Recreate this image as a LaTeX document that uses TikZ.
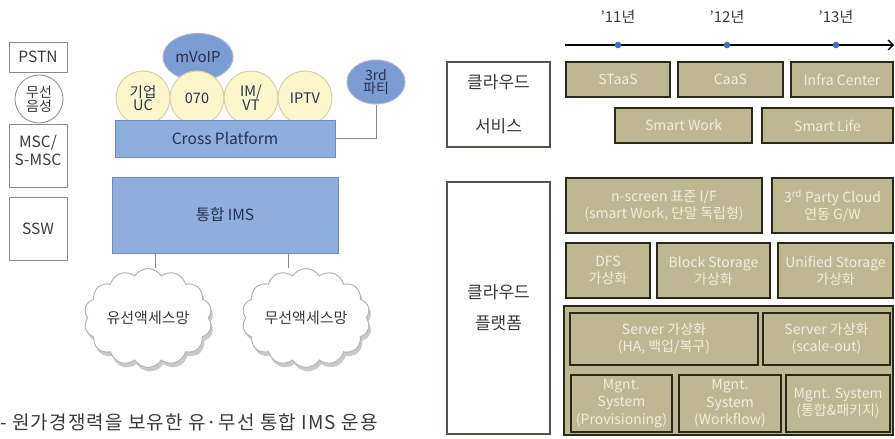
\documentclass[tikz,border=0pt]{standalone}
\usepackage{fontspec}
\setmainfont{Noto Sans CJK KR}
\usetikzlibrary{shapes.symbols,shapes.geometric,shadows,arrows.meta,calc}

\definecolor{boxgrey}{HTML}{8A8A8A}
\definecolor{txtgrey}{HTML}{3A3A3A}
\definecolor{bluefill}{HTML}{8EAEE0}
\definecolor{blueborder}{HTML}{6E8CBE}
\definecolor{ellfill}{HTML}{7C9CD4}
\definecolor{ellborder}{HTML}{A9B6CC}
\definecolor{yelfill}{HTML}{FBF7CB}
\definecolor{yelborder}{HTML}{D8CFA6}
\definecolor{navytxt}{HTML}{23324F}
\definecolor{tanfill}{HTML}{BDB892}
\definecolor{tanborder}{HTML}{2C281C}
\definecolor{tantext}{HTML}{EFECDB}
\definecolor{dotblue}{HTML}{3A6FC8}
\definecolor{cloudline}{HTML}{B4B4B4}

\begin{document}
\begin{tikzpicture}[x=1pt,y=-1pt,
  greybox/.style={draw=boxgrey, line width=0.8pt, fill=white, minimum width=58pt,
    inner sep=0pt, text=txtgrey, align=center, font=\fontsize{15.5}{17}\selectfont},
  yel/.style={circle, draw=yelborder, fill=yelfill, line width=1pt, minimum size=54pt,
    inner sep=0pt, text=navytxt, align=center, font=\fontsize{14.5}{13}\selectfont},
  bluebox/.style={draw=blueborder, fill=bluefill, line width=1pt, inner sep=0pt,
    text=navytxt, font=\fontsize{15.5}{17}\selectfont},
  blueell/.style={ellipse, draw=ellborder, fill=ellfill, line width=1pt, inner sep=0pt,
    text=navytxt, align=center, font=\fontsize{15}{13}\selectfont},
  netcloud/.style={cloud, cloud puffs=14, cloud puff arc=115, aspect=1.35,
    draw=cloudline, fill=white, line width=1pt, inner sep=0pt,
    minimum width=128pt, minimum height=96pt, text=txtgrey,
    font=\fontsize{15}{17}\selectfont,
    drop shadow={shadow xshift=2pt, shadow yshift=-4pt, fill=black!30, opacity=0.7}},
  tanbox/.style={draw=tanborder, fill=tanfill, line width=1.5pt, inner sep=0pt,
    text=tantext, align=center, font=\fontsize{14}{17}\selectfont},
  labelbox/.style={draw=tanborder!80, line width=1.2pt, fill=white, inner sep=0pt,
    text=txtgrey, align=center},
  yearlbl/.style={text=txtgrey, font=\fontsize{15}{17}\selectfont},
  link/.style={draw=boxgrey, line width=0.8pt}
]
\useasboundingbox (0,0) rectangle (895,439);

% ---------------- legacy networks column ----------------
\node[greybox, minimum height=30pt] (pstn) at (38,57) {PSTN};
\node[greybox, minimum height=63pt,
      label={[text=txtgrey, align=center, inner sep=0pt, yshift=6pt,
              font=\fontsize{15.5}{18}\selectfont]center:MSC/\\S-MSC}] (msc) at (38,156) {};
\node[circle, draw=boxgrey, line width=0.8pt, fill=white, minimum size=48pt, inner sep=0pt,
      text=txtgrey, align=center, font=\fontsize{14}{13.5}\selectfont] (voice) at (39,99) {무선\\음성};
\node[greybox, minimum height=63pt] (ssw) at (38,228.5) {SSW};

% ---------------- service bubbles ----------------
\node[blueell, minimum width=70pt, minimum height=47pt] (mvoip) at (198,57) {mVoIP};
\node[yel] (ucbub) at (143,98) {기업\\UC};
\node[yel] (bub070) at (197,98) {070};
\node[yel] (imvt) at (251,98) {IM/\\VT};
\node[yel] (iptv) at (305,98) {IPTV};
\node[bluebox, minimum width=220pt, minimum height=37pt] (cross) at (225,138.5) {Cross Platform};

\node[blueell, minimum width=58pt, minimum height=44pt, font=\fontsize{14}{13}\selectfont] (third) at (376,82) {3rd\\파티};
\draw[link] (cross.east) -| (third.south);

% ---------------- integrated IMS and access networks ----------------
\node[bluebox, minimum width=226pt, minimum height=76pt] (ims) at (225,215) {통합 IMS};

\node[netcloud] (wired) at (148,318) {유선액세스망};
\node[netcloud] (wireless) at (306,318) {무선액세스망};

\draw[link] ([xshift=-70pt]ims.south) -- ([xshift=-70pt]ims.south |- wired.north);
\draw[link] ([xshift=63pt]ims.south) -- ([xshift=63pt]ims.south |- wireless.north);

\node[anchor=west, inner sep=0pt, text=txtgrey,
      font=\fontsize{19}{21}\selectfont\addfontfeature{LetterSpace=6}] (caption) at (0,422)
  {- 원가경쟁력을 보유한 유·무선 통합 IMS 운용};

% ---------------- timeline ----------------
\coordinate (tlstart) at (565,45);
\coordinate (tlend) at (894,45);
\draw[line width=1.3pt, -{Straight Barb[length=5pt, width=10pt]}] (tlstart) -- (tlend);
\foreach \px/\yr [count=\i] in {618/11, 727/12, 836/13} {
  \fill[dotblue] (\px,45) circle (3.3pt);
  \node[yearlbl] (yr\i) at (\px,17) {'{\yr}년};
}

% ---------------- cloud services ----------------
\node[labelbox, minimum width=103pt, minimum height=85pt, font=\fontsize{17}{44}\selectfont] (svc) at (498.5,104.5) {클라우드\\서비스};
\node[tanbox, minimum width=104pt, minimum height=35pt] (staas) at (618,79.5) {STaaS};
\node[tanbox, minimum width=105pt, minimum height=35pt] (caas) at (730.5,79.5) {CaaS};
\node[tanbox, minimum width=102pt, minimum height=35pt] (infra) at (842,79.5) {Infra Center};
\node[tanbox, minimum width=137pt, minimum height=35pt] (swork) at (683.5,125.5) {Smart Work};
\node[tanbox, minimum width=131pt, minimum height=35pt] (slife) at (827.5,125.5) {Smart Life};

% ---------------- cloud platform ----------------
\node[labelbox, minimum width=103pt, minimum height=252pt, font=\fontsize{17}{31}\selectfont] (plat) at (498.5,308) {클라우드\\플랫폼};
\node[tanbox, minimum width=196pt, minimum height=55pt] (nscreen) at (664,205.5) {n-screen 표준 I/F\\(smart Work, 단말 독립형)};
\node[tanbox, minimum width=121pt, minimum height=55pt] (party) at (832.5,205.5) {3\textsuperscript{rd} Party Cloud\\연동 G/W};
\node[tanbox, minimum width=84pt, minimum height=55pt] (dfs) at (608,270.5) {DFS\\가상화};
\node[tanbox, minimum width=113pt, minimum height=55pt] (block) at (713.5,270.5) {Block Storage\\가상화};
\node[tanbox, minimum width=115pt, minimum height=55pt] (unified) at (835.5,270.5) {Unified Storage\\가상화};

\node[tanbox, line width=1.2pt, minimum width=329pt, minimum height=129pt] (infra2) at (728.5,370.5) {};
\node[tanbox, minimum width=188pt, minimum height=52pt] (srv1) at (664,339) {Server 가상화\\(HA, 백업/복구)};
\node[tanbox, minimum width=127pt, minimum height=52pt] (srv2) at (826.5,339) {Server 가상화\\(scale-out)};
\node[tanbox, minimum width=101pt, minimum height=57pt, font=\fontsize{14}{17.5}\selectfont] (mg1) at (621.5,403.5) {Mgnt.\\System\\(Provisioning)};
\node[tanbox, minimum width=102pt, minimum height=57pt, font=\fontsize{14}{17.5}\selectfont] (mg2) at (730,403.5) {Mgnt.\\System\\(Workflow)};
\node[tanbox, minimum width=104pt, minimum height=57pt] (mg3) at (838,403.5) {Mgnt. System\\(통합\&패키지)};
\end{tikzpicture}
\end{document}
